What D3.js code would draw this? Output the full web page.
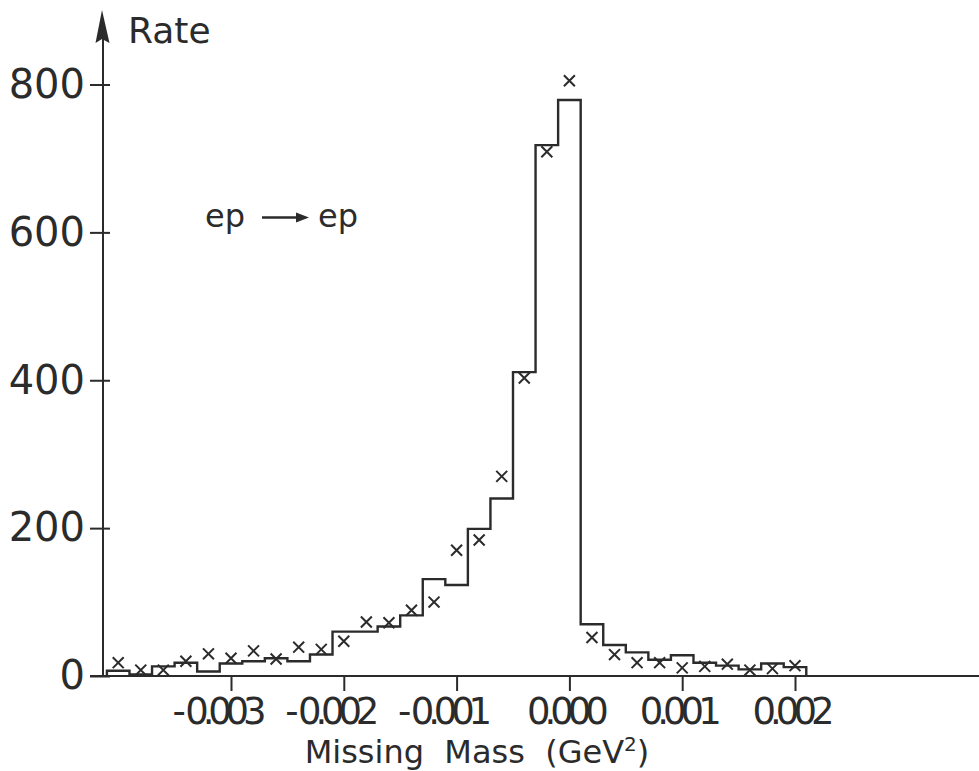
<!DOCTYPE html>
<html>
<head>
<meta charset="utf-8">
<script src="https://cdn.jsdelivr.net/npm/d3@7"></script>
<style>
  body { margin: 0; background: #fff; }
  text { font-family: "DejaVu Sans", sans-serif; fill: #2b2b2b; }
</style>
</head>
<body>
<div id="chart-area"></div>
<script>
const WIDTH = 979
const HEIGHT = 771
const INK = "#2b2b2b"

// bin centres (GeV^2), histogram heights and the x-marked measured points
const massBins = [-0.0040, -0.0038, -0.0036, -0.0034, -0.0032, -0.0030, -0.0028, -0.0026,
  -0.0024, -0.0022, -0.0020, -0.0018, -0.0016, -0.0014, -0.0012, -0.0010, -0.0008, -0.0006,
  -0.0004, -0.0002, 0.0000, 0.0002, 0.0004, 0.0006, 0.0008, 0.0010, 0.0012, 0.0014, 0.0016,
  0.0018, 0.0020]
const histRate = [7, 2, 13, 18, 6, 17, 20, 24, 20, 29, 60, 60, 67, 82, 131, 123, 199, 240,
  411, 718, 779, 70, 42, 32, 22, 28, 18, 14, 9, 17, 12]
const pointRate = [18, 8, 8, 20, 30, 24, 34, 23, 39, 36, 47, 73, 72, 89, 100, 170, 184, 270,
  403, 709, 805, 52, 29, 18, 18, 11, 13, 16, 8, 10, 14]
const BIN_HALF = 0.0001

const xTicks = [-0.003, -0.002, -0.001, 0, 0.001, 0.002]
const xTickLabels = ["-\u00a00.003", "-\u00a00.002", "-\u00a00.001", "0.000", "0.001", "0.002"]
const yTicks = [0, 200, 400, 600, 800]

const svg = d3.select("#chart-area").append("svg")
  .attr("width", WIDTH)
  .attr("height", HEIGHT)

const x = d3.scaleLinear()
  .domain([-0.003, 0.002])
  .range([231, 795])

const y = d3.scaleLinear()
  .domain([0, 800])
  .range([676, 84.5])

const AXIS_X = 103

// x axis line (runs off the right edge)
svg.append("line")
  .attr("x1", 90).attr("x2", WIDTH)
  .attr("y1", y(0)).attr("y2", y(0))
  .attr("stroke", INK).attr("stroke-width", 2)

const xAxisCall = d3.axisBottom(x)
  .tickValues(xTicks)
  .tickSize(15)
  .tickSizeOuter(0)
  .tickFormat((d, i) => xTickLabels[i])

const xAxisGroup = svg.append("g")
  .attr("transform", `translate(0, ${y(0)})`)
  .call(xAxisCall)
xAxisGroup.select(".domain").remove()
xAxisGroup.selectAll("line").attr("stroke", INK).attr("stroke-width", 2)
// labels in the original are tightly set, so squeeze the spacing
xAxisGroup.selectAll("text")
  .attr("y", 48)
  .attr("dy", 0)
  .attr("dx", d => d < 0 ? -12 : -2)
  .attr("font-size", "37px")
  .attr("font-family", "DejaVu Sans")
  .attr("textLength", d => d < 0 ? 94 : 82)
  .attr("lengthAdjust", "spacing")
  .attr("fill", INK)

// y axis with arrow
svg.append("line")
  .attr("x1", AXIS_X).attr("x2", AXIS_X)
  .attr("y1", y(0) + 1).attr("y2", 38)
  .attr("stroke", INK).attr("stroke-width", 2)

svg.append("path")
  .attr("d", `M${AXIS_X - 1},10 L${AXIS_X - 7.5},43 L${AXIS_X - 1},39 L${AXIS_X + 6.5},43 Z`)
  .attr("fill", INK)

const yAxisCall = d3.axisLeft(y)
  .tickValues(yTicks)
  .tickSizeOuter(0)
  .tickFormat(d => d)

const yAxisGroup = svg.append("g")
  .attr("transform", `translate(${AXIS_X}, 0)`)
  .call(yAxisCall)
yAxisGroup.select(".domain").remove()
yAxisGroup.selectAll("line")
  .attr("x1", 7).attr("x2", -13)
  .attr("stroke", INK).attr("stroke-width", 2)
yAxisGroup.selectAll("text")
  .attr("x", -18)
  .attr("font-size", "40px")
  .attr("font-family", "DejaVu Sans")
  .attr("fill", INK)

// labels
svg.append("text")
  .attr("x", 128)
  .attr("y", 43)
  .attr("font-size", "36px")
  .text("Rate")

const xTitle = svg.append("text")
  .attr("x", 477)
  .attr("y", 763)
  .attr("font-size", "32px")
  .attr("text-anchor", "middle")
xTitle.append("tspan").text("Missing\u00a0\u00a0Mass\u00a0\u00a0(GeV")
xTitle.append("tspan").attr("font-size", "20px").attr("dy", -12).text("2")
xTitle.append("tspan").attr("dy", 12).text(")")

// reaction annotation
svg.append("text")
  .attr("x", 205)
  .attr("y", 227)
  .attr("font-size", "32px")
  .text("ep")
svg.append("text")
  .attr("x", 318)
  .attr("y", 227)
  .attr("font-size", "32px")
  .text("ep")
svg.append("line")
  .attr("x1", 262).attr("x2", 298)
  .attr("y1", 217.5).attr("y2", 217.5)
  .attr("stroke", INK).attr("stroke-width", 2.5)
svg.append("path")
  .attr("d", "M296,212.5 L309,217.5 L296,222.5 Z")
  .attr("fill", INK)

// histogram outline
const stepPts = []
massBins.forEach((m, i) => {
  if (i === 0) stepPts.push([m - BIN_HALF, 0])
  stepPts.push([m - BIN_HALF, histRate[i]])
  stepPts.push([m + BIN_HALF, histRate[i]])
})
stepPts.push([massBins[massBins.length - 1] + BIN_HALF, 0])

const line = d3.line()
  .x(d => x(d[0]))
  .y(d => y(d[1]))

svg.append("path")
  .attr("d", line(stepPts))
  .attr("fill", "none")
  .attr("stroke", INK)
  .attr("stroke-width", 2.4)
  .attr("stroke-linejoin", "miter")

// measured points as crosses
const cross = d3.symbol().type(d3.symbolX).size(80)
svg.selectAll(".pt")
  .data(massBins)
  .enter().append("path")
  .attr("class", "pt")
  .attr("transform", (d, i) => `translate(${x(d)}, ${y(pointRate[i])})`)
  .attr("d", cross)
  .attr("fill", "none")
  .attr("stroke", INK)
  .attr("stroke-width", 2)
</script>
</body>
</html>
